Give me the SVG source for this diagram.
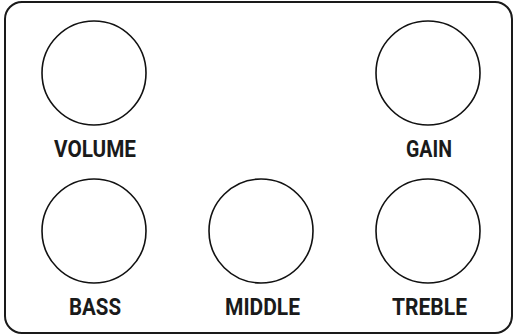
<svg xmlns="http://www.w3.org/2000/svg" width="515" height="336" viewBox="0 0 515 336">
<style>
.knob{fill:#fff;stroke:#111;stroke-width:1.6}
.lbl{font-family:Roboto,"Liberation Sans",sans-serif;font-weight:bold;font-size:24.5px;fill:#1a1a1a;text-anchor:middle}
</style>
<rect x="5" y="2" width="507" height="331" rx="17" fill="#fff" stroke="#1a1a1a" stroke-width="2"/>
<g id="volume"><circle class="knob" cx="94" cy="73" r="52"/><text class="lbl" x="95" y="157" textLength="82" lengthAdjust="spacingAndGlyphs">VOLUME</text></g>
<g id="gain"><circle class="knob" cx="428" cy="73" r="52"/><text class="lbl" x="429" y="157" textLength="46" lengthAdjust="spacingAndGlyphs">GAIN</text></g>
<g id="bass"><circle class="knob" cx="94" cy="231" r="52"/><text class="lbl" x="95" y="315" textLength="52" lengthAdjust="spacingAndGlyphs">BASS</text></g>
<g id="middle"><circle class="knob" cx="261" cy="231" r="52"/><text class="lbl" x="262.5" y="315" textLength="75" lengthAdjust="spacingAndGlyphs">MIDDLE</text></g>
<g id="treble"><circle class="knob" cx="428" cy="231" r="52"/><text class="lbl" x="429.5" y="315" textLength="75" lengthAdjust="spacingAndGlyphs">TREBLE</text></g>
<g id="connectors"></g>
</svg>
